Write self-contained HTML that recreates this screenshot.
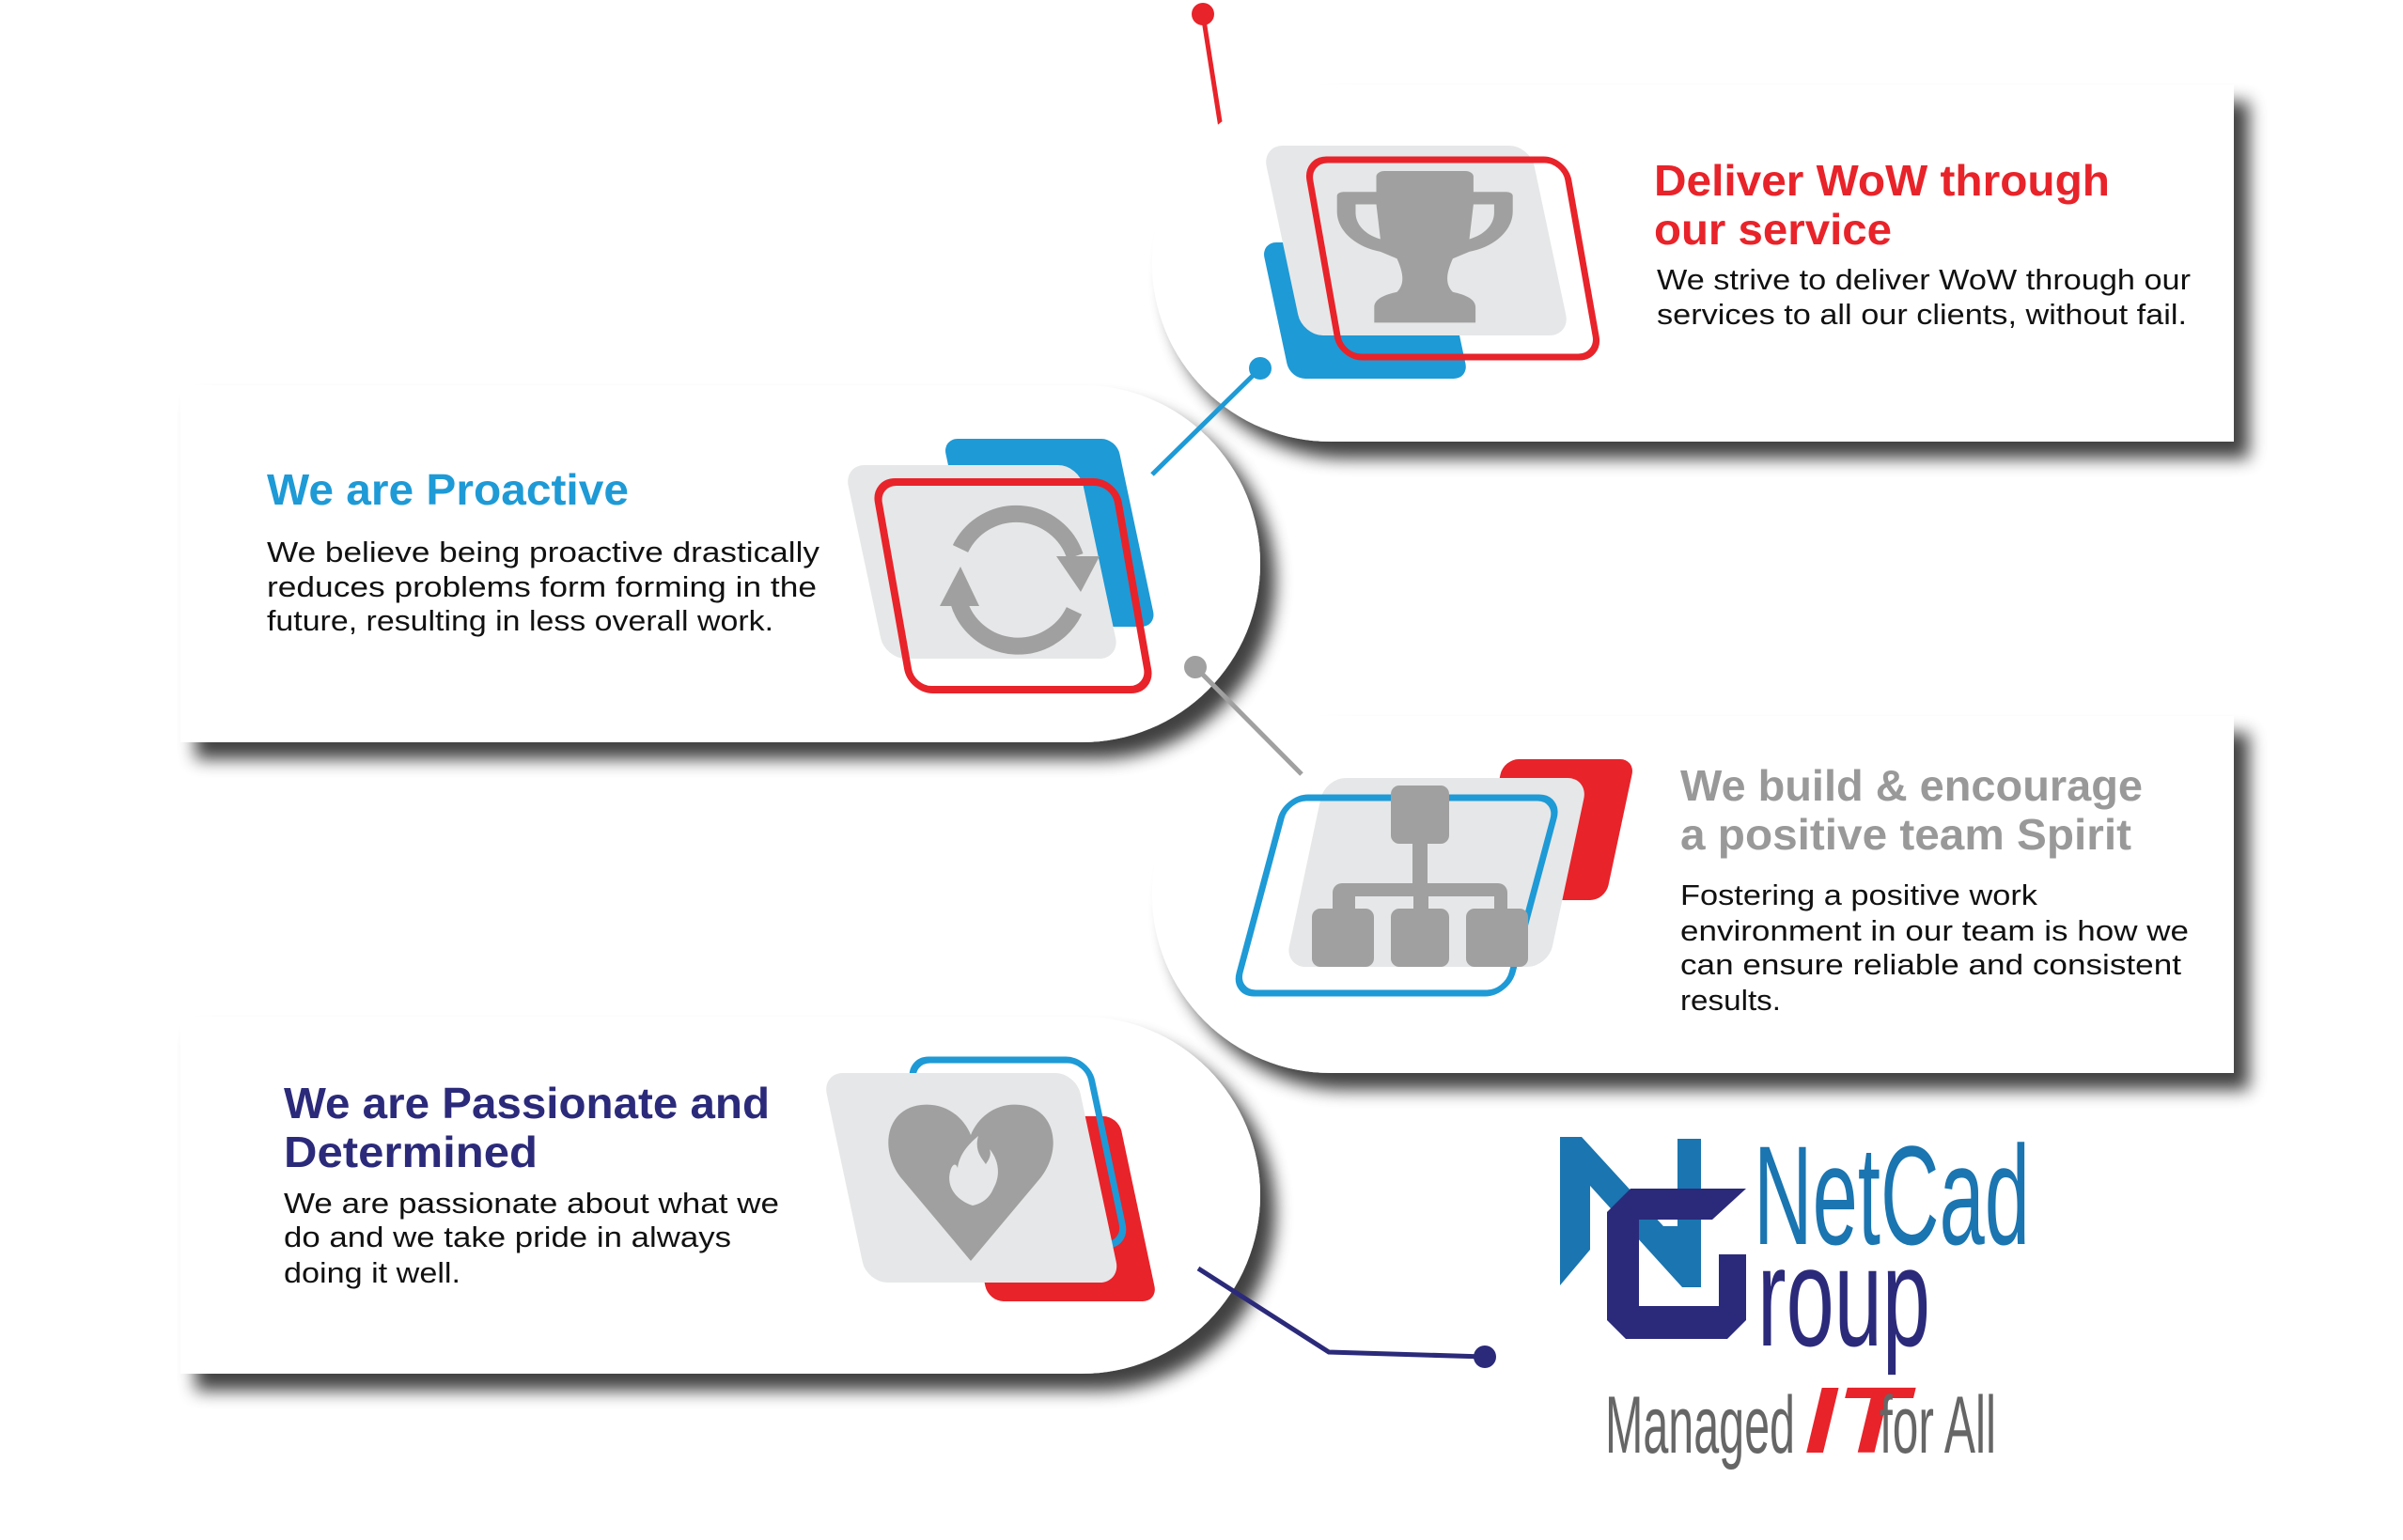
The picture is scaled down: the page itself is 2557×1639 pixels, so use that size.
<!DOCTYPE html>
<html><head><meta charset="utf-8"><style>
html,body{margin:0;padding:0;background:#fff;}
svg{display:block;}
text{font-family:"Liberation Sans",sans-serif;}
</style></head><body>
<svg width="2557" height="1639" viewBox="0 0 2557 1639" xmlns="http://www.w3.org/2000/svg">
<defs>
<filter id="sh" x="-10%" y="-20%" width="130%" height="150%">
<feGaussianBlur in="SourceAlpha" stdDeviation="9"/>
<feOffset dx="16" dy="18" result="o"/>
<feComponentTransfer><feFuncA type="linear" slope="0.75"/></feComponentTransfer>
<feMerge><feMergeNode/><feMergeNode in="SourceGraphic"/></feMerge>
</filter>
</defs>
<rect width="2557" height="1639" fill="#fff"/>

<line x1="1280" y1="15" x2="1305" y2="174" stroke="#e8232a" stroke-width="5"/>
<circle cx="1280" cy="15" r="12" fill="#e8232a"/>

<path d="M192,1082 H1151 A190,190 0 0 1 1151,1462 H192 Z" fill="#fff" filter="url(#sh)"/>
<path d="M192,410 H1151 A190,190 0 0 1 1151,790 H192 Z" fill="#fff" filter="url(#sh)"/>
<path d="M1416,762 H2377 V1142 H1416 A190,190 0 0 1 1416,762 Z" fill="#fff" filter="url(#sh)"/>
<path d="M1416,90 H2377 V470 H1416 A190,190 0 0 1 1416,90 Z" fill="#fff" filter="url(#sh)"/>

<line x1="1341" y1="392" x2="1226" y2="505" stroke="#1e9ad6" stroke-width="5"/>
<circle cx="1341" cy="392" r="12" fill="#1e9ad6"/>
<line x1="1272" y1="710" x2="1385" y2="824" stroke="#a0a0a0" stroke-width="5"/>
<circle cx="1272" cy="710" r="12" fill="#a0a0a0"/>
<polyline points="1275,1350 1414,1439 1580,1444" fill="none" stroke="#2b2a7a" stroke-width="5"/>
<circle cx="1580" cy="1444" r="12" fill="#2b2a7a"/>

<!-- Card1 icon -->
<rect x="0" y="0" width="190" height="145" rx="16" fill="#1e9ad6" transform="translate(1342,258) skewX(12)"/>
<rect x="0" y="0" width="285" height="202" rx="22" fill="#e6e7e8" transform="translate(1343,155) skewX(12)"/>
<rect x="0" y="0" width="275" height="210" rx="22" fill="none" stroke="#e8232a" stroke-width="7" transform="translate(1390,170) skewX(10)"/>
<g fill="#a0a0a0" transform="translate(1525,182) scale(1.1,0.74) translate(-1525,-182)">
<path d="M1478,182 h78 a8,8 0 0 1 8,8 v22 h32 a6,6 0 0 1 6,6 v22 c0,30 -20,52 -42,58 l-16,10 c-6,20 -8,36 0,48 c12,4 22,10 22,22 v22 h-98 v-22 c0,-12 10,-18 22,-22 c8,-12 6,-28 0,-48 l-16,-10 c-22,-6 -42,-28 -42,-58 v-22 a6,6 0 0 1 6,-6 h32 v-22 a8,8 0 0 1 8,-8 z M1450,230 v12 c0,18 10,32 24,38 l-4,-50 z M1584,230 h-20 l-4,50 c14,-6 24,-20 24,-38 z"/>
</g>

<!-- Card2 icon -->
<rect x="0" y="0" width="185" height="200" rx="16" fill="#1e9ad6" transform="translate(1003,467) skewX(12)"/>
<rect x="0" y="0" width="250" height="206" rx="22" fill="#e6e7e8" transform="translate(898,495) skewX(12)"/>
<rect x="0" y="0" width="255" height="221" rx="22" fill="none" stroke="#e8232a" stroke-width="8" transform="translate(931,513) skewX(10)"/>
<g fill="none" stroke="#a0a0a0" stroke-width="18">
<path d="M1022,584 A66,66 0 0 1 1144,592"/>
<path d="M1143,650 A66,66 0 0 1 1020,640"/>
</g>
<polygon points="1124,592 1170,592 1150,630" fill="#a0a0a0"/>
<polygon points="1000,645 1042,645 1022,603" fill="#a0a0a0"/>

<!-- Card3 icon -->
<rect x="0" y="0" width="140" height="150" rx="16" fill="#e8232a" transform="translate(1600,808) skewX(-12)"/>
<rect x="0" y="0" width="280" height="201" rx="22" fill="#e6e7e8" transform="translate(1410,828) skewX(-12)"/>
<rect x="0" y="0" width="290" height="208" rx="22" fill="none" stroke="#1e9ad6" stroke-width="7" transform="translate(1369,849) skewX(-15)"/>
<g fill="#a0a0a0">
<rect x="1480" y="836" width="62" height="62" rx="9"/>
<rect x="1503" y="895" width="16" height="50"/>
<path d="M1418,980 v-30 a10,10 0 0 1 10,-10 h166 a10,10 0 0 1 10,10 v30 h-14 v-26 h-70 v26 h-16 v-26 h-62 v26 z"/>
<rect x="1396" y="967" width="66" height="62" rx="9"/>
<rect x="1480" y="967" width="62" height="62" rx="9"/>
<rect x="1560" y="967" width="66" height="62" rx="9"/>
</g>

<!-- Card4 icon -->
<rect x="0" y="0" width="180" height="197" rx="16" fill="#e8232a" transform="translate(1010,1188) skewX(12)"/>
<rect x="0" y="0" width="190" height="197" rx="22" fill="none" stroke="#1e9ad6" stroke-width="7" transform="translate(967,1128) skewX(12)"/>
<rect x="0" y="0" width="270" height="223" rx="22" fill="#e6e7e8" transform="translate(875,1142) skewX(12)"/>
<path d="M1033,1342 L960,1255 C935,1225 942,1180 980,1176 C1005,1173 1025,1188 1033,1208 C1041,1188 1061,1173 1086,1176 C1124,1180 1131,1225 1106,1255 Z" fill="#a0a0a0"/>
<path d="M1035,1283 c-18,-6 -28,-20 -24,-36 c2,-8 6,-10 8,-4 c2,-14 10,-24 22,-34 c-4,14 2,22 8,30 c4,-6 6,-10 4,-16 c10,12 12,28 4,42 c-4,10 -12,16 -22,18 z" fill="#e6e7e8"/>

<text x="1760" y="208" font-size="46" font-weight="bold" fill="#e8232a" textLength="485" lengthAdjust="spacingAndGlyphs">Deliver WoW through</text>
<text x="1760" y="260" font-size="46" font-weight="bold" fill="#e8232a" textLength="253" lengthAdjust="spacingAndGlyphs">our service</text>
<text x="1763" y="308" font-size="31" fill="#111" textLength="568" lengthAdjust="spacingAndGlyphs">We strive to deliver WoW through our</text>
<text x="1763" y="345" font-size="31" fill="#111" textLength="564" lengthAdjust="spacingAndGlyphs">services to all our clients, without fail.</text>

<text x="284" y="537" font-size="46" font-weight="bold" fill="#1e9ad6" textLength="385" lengthAdjust="spacingAndGlyphs">We are Proactive</text>
<text x="284" y="598" font-size="31" fill="#111" textLength="588" lengthAdjust="spacingAndGlyphs">We believe being proactive drastically</text>
<text x="284" y="635" font-size="31" fill="#111" textLength="585" lengthAdjust="spacingAndGlyphs">reduces problems form forming in the</text>
<text x="284" y="671" font-size="31" fill="#111" textLength="539" lengthAdjust="spacingAndGlyphs">future, resulting in less overall work.</text>

<text x="1788" y="852" font-size="46" font-weight="bold" fill="#999" textLength="492" lengthAdjust="spacingAndGlyphs">We build &amp; encourage</text>
<text x="1788" y="904" font-size="46" font-weight="bold" fill="#999" textLength="480" lengthAdjust="spacingAndGlyphs">a positive team Spirit</text>
<text x="1788" y="963" font-size="31" fill="#111" textLength="380" lengthAdjust="spacingAndGlyphs">Fostering a positive work</text>
<text x="1788" y="1001" font-size="31" fill="#111" textLength="541" lengthAdjust="spacingAndGlyphs">environment in our team is how we</text>
<text x="1788" y="1037" font-size="31" fill="#111" textLength="533" lengthAdjust="spacingAndGlyphs">can ensure reliable and consistent</text>
<text x="1788" y="1075" font-size="31" fill="#111" textLength="107" lengthAdjust="spacingAndGlyphs">results.</text>

<text x="302" y="1190" font-size="46" font-weight="bold" fill="#2b2a7a" textLength="517" lengthAdjust="spacingAndGlyphs">We are Passionate and</text>
<text x="302" y="1242" font-size="46" font-weight="bold" fill="#2b2a7a" textLength="270" lengthAdjust="spacingAndGlyphs">Determined</text>
<text x="302" y="1291" font-size="31" fill="#111" textLength="527" lengthAdjust="spacingAndGlyphs">We are passionate about what we</text>
<text x="302" y="1327" font-size="31" fill="#111" textLength="476" lengthAdjust="spacingAndGlyphs">do and we take pride in always</text>
<text x="302" y="1365" font-size="31" fill="#111" textLength="188" lengthAdjust="spacingAndGlyphs">doing it well.</text>

<polygon points="1660,1210 1683,1210 1770,1305 1785,1305 1785,1212 1810,1212 1810,1370 1790,1370 1692,1262 1692,1330 1660,1368" fill="#1a75b0"/>
<path d="M1735,1265 L1858,1265 L1822,1298 L1744,1298 L1744,1390 L1829,1390 L1829,1335 L1858,1335 L1858,1405 L1838,1425 L1730,1425 L1710,1405 L1710,1290 Z" fill="#2b2a7a"/>
<text x="1866" y="1324" font-size="150" fill="#1a75b0" textLength="294" lengthAdjust="spacingAndGlyphs">NetCad</text>
<text x="1870" y="1432" font-size="150" fill="#2b2a7a" textLength="184" lengthAdjust="spacingAndGlyphs">roup</text>
<text x="1708" y="1546" font-size="86" fill="#666" textLength="202" lengthAdjust="spacingAndGlyphs">Managed</text>
<text x="1920" y="1546" font-size="100" font-weight="bold" font-style="italic" fill="#e8232a" textLength="110" lengthAdjust="spacingAndGlyphs">IT</text>
<text x="2000" y="1546" font-size="86" fill="#666" textLength="124" lengthAdjust="spacingAndGlyphs">for All</text>
</svg>
</body></html>
